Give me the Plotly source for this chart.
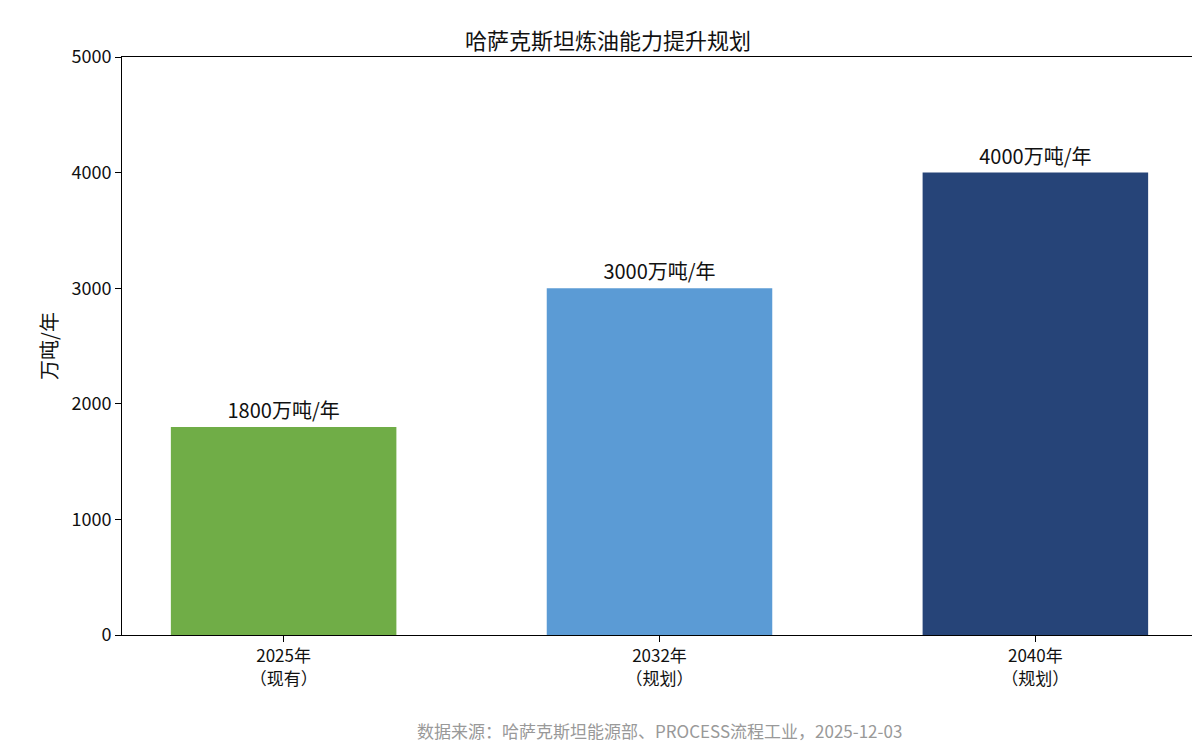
import plotly.graph_objects as go

categories = ["2025年<br>（现有）", "2032年<br>（规划）", "2040年<br>（规划）"]
values = [1800, 3000, 4000]
labels = ["1800万吨/年", "3000万吨/年", "4000万吨/年"]
colors = ["#70AD47", "#5B9BD5", "#264478"]

font = "Noto Sans CJK SC"

fig = go.Figure()
fig.add_trace(go.Bar(
    x=[0, 1, 2], y=values, width=0.6,
    marker=dict(color=colors, line=dict(width=0)),
    text=labels, textposition="outside",
    textfont=dict(size=20, color="#111"), cliponaxis=False,
))

fig.update_layout(
    width=1200, height=750,
    paper_bgcolor="white", plot_bgcolor="white",
    margin=dict(l=114, r=11, t=49, b=123),
    font=dict(family=font, size=18, color="#111"),
    title=dict(text="哈萨克斯坦炼油能力提升规划", x=0.5, xanchor="center",
               y=0.955, yanchor="middle", font=dict(size=22)),
    showlegend=False,
    xaxis=dict(range=[-0.43, 2.43], tickvals=[0, 1, 2], ticktext=categories,
               showline=True, linecolor="black", mirror=True, ticks="outside",
               ticklen=6, tickcolor="black", showgrid=False,
               tickfont=dict(size=17)),
    yaxis=dict(range=[0, 5000], dtick=1000, showline=True, linecolor="black",
               mirror=True, ticks="outside", ticklen=6, tickcolor="black",
               showgrid=False, zeroline=False, tickfont=dict(size=18),
               title=dict(text="万吨/年", font=dict(size=20), standoff=8)),
)
fig.add_annotation(text="数据来源：哈萨克斯坦能源部、PROCESS流程工业，2025-12-03",
                   xref="paper", yref="paper", x=0.5, y=-0.14, yanchor="top",
                   showarrow=False, font=dict(size=17, color="#999"))

fig.write_html("out.html")
